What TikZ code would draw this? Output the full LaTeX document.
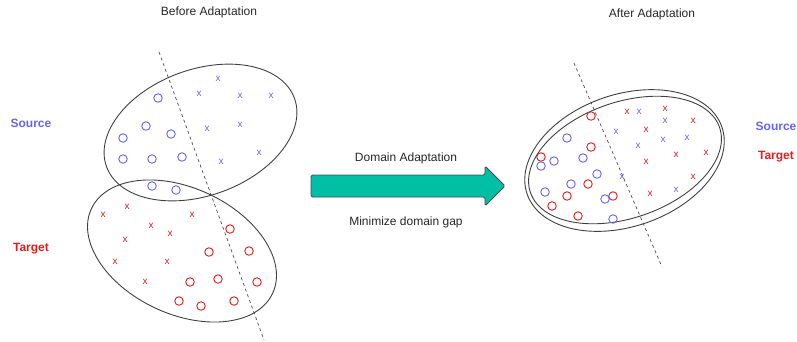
\documentclass[tikz,border=0pt]{standalone}
\usepackage{fontspec}
\setmainfont{Liberation Sans}
\begin{document}
\begin{tikzpicture}[x=1pt,y=-1pt,
  ell/.style={draw=black!75, line width=0.9pt},
  sep/.style={draw=black!70, dashed, line width=0.7pt},
  bo/.style={circle, draw=srcblue, line width=0.9pt, minimum size=8.5pt, inner sep=0pt},
  ro/.style={circle, draw=tgtred, line width=0.9pt, minimum size=8.5pt, inner sep=0pt},
  bx/.style={text=srcblue, font=\fontsize{10}{10}\selectfont, inner sep=0pt},
  rx/.style={text=tgtred, font=\fontsize{10}{10}\selectfont, inner sep=0pt},
  title/.style={font=\fontsize{12}{14}\selectfont, text=black!85},
  lab/.style={font=\fontsize{12}{14}\selectfont\bfseries}
]
\definecolor{srcblue}{RGB}{100,100,250}
\definecolor{tgtred}{RGB}{228,28,28}
\definecolor{teal}{RGB}{0,191,165}
\useasboundingbox (0,0) rectangle (797,341);

% ---------- titles ----------
\node[title] (t1) at (209,12) {Before Adaptation};
\node[title] (t2) at (652,14) {After Adaptation};

% ---------- left panel ----------
\node[lab, text=srcblue] (ls) at (31,123) {Source};
\node[lab, text=tgtred] (lt) at (31,249) {Target};

\draw[ell, rotate around={20:(200.5,132.5)}] (200.5,132.5) ellipse [x radius=100, y radius=63];
\draw[ell, rotate around={-25:(182,251)}] (182,251) ellipse [x radius=100, y radius=63];

\coordinate (d1a) at (159,52);
\coordinate (d1b) at (264,340);
\draw[sep] (d1a) -- (d1b);

\foreach \p [count=\i] in {(158,98),(146,126),(123,138),(171,134),(123,159),(152,159),(182,157),(152,186),(176,190)}
  \node[bo] (lbo\i) at \p {};
\foreach \p [count=\i] in {(218,79),(199,94),(240,96),(271,96),(207,129),(240,125),(259,153),(221,162)}
  \node[bx] (lbx\i) at \p {x};
\foreach \p [count=\i] in {(127,207),(103,215),(192,215),(151,226),(170,234),(125,240),(115,262),(167,262),(145,282)}
  \node[rx] (lrx\i) at \p {x};
\foreach \p [count=\i] in {(230,229),(209,252),(249,251),(190,282),(218,279),(257,282),(179,301),(201,306),(234,301)}
  \node[ro] (lro\i) at \p {};

% ---------- arrow ----------
\draw[fill=teal, draw=black!70, line width=0.8pt, rounded corners=1.5pt]
  (311,175) -- (485,175) -- (485,166) -- (505,186) -- (485,206) -- (485,197) -- (311,197) -- cycle;
\node[title] (da) at (406,158) {Domain Adaptation};
\node[title] (mg) at (406,222) {Minimize domain gap};

% ---------- right panel ----------
\node[lab, text=srcblue] (rs) at (776,126) {Source};
\node[lab, text=tgtred] (rt) at (776,157) {Target};

\draw[ell, rotate around={19:(624.5,160.5)}] (624.5,160.5) ellipse [x radius=103, y radius=66];
\draw[ell, rotate around={19:(625,160)}] (625,160) ellipse [x radius=100, y radius=58];

\coordinate (d2a) at (574,63);
\coordinate (d2b) at (662,267);
\draw[sep] (d2a) -- (d2b);

\foreach \p [count=\i] in {(591,116),(591,147),(541,157),(588,184),(567,196),(613,196),(552,206),(578,216)}
  \node[ro] (rro\i) at \p {};
\foreach \p [count=\i] in {(567,138),(554,161),(541,166),(583,158),(597,174),(571,184),(545,192),(605,199),(613,219)}
  \node[bo] (rbo\i) at \p {};
\foreach \p [count=\i] in {(627,112),(665,109),(693,121),(646,130),(676,155),(706,153),(646,162),(693,177),(650,194)}
  \node[rx] (rrx\i) at \p {x};
\foreach \p [count=\i] in {(639,112),(665,121),(616,132),(663,140),(687,138),(638,146),(622,177),(676,190)}
  \node[bx] (rbx\i) at \p {x};
\end{tikzpicture}
\end{document}
